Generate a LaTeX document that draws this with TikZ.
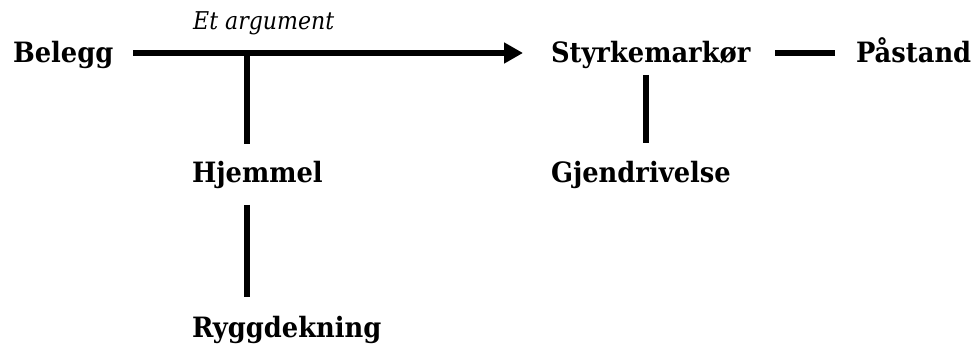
\documentclass[tikz,border=0pt]{standalone}
\usepackage{fontspec}
\setmainfont{DejaVu Serif}[BoldFeatures={FakeStretch=0.92},ItalicFeatures={FakeStretch=0.9}]
\usetikzlibrary{arrows.meta,calc}
\begin{document}
\begin{tikzpicture}[x=1pt,y=-1pt,
  lbl/.style={anchor=base west,inner sep=0pt,outer sep=0pt,text height=21pt,text depth=1pt,
    font=\fontsize{28}{34}\selectfont\bfseries},
  captext/.style={anchor=base west,inner sep=0pt,font=\fontsize{24.5}{28}\selectfont\itshape},
  conn/.style={line width=6.5pt},
  arr/.style={conn,-{Triangle[length=19pt,width=20pt]}}]
\useasboundingbox (0,0) rectangle (976,344);
\node[lbl] (belegg) at (13,63) {Belegg};
\node[captext] (etarg) at (193,30) {Et argument};
\node[lbl] (styrke) at (551,63) {Styrkemarkør};
\node[lbl] (pastand) at (856,63) {Påstand};
\node[lbl] (hjemmel) at (192,183) {Hjemmel};
\node[lbl] (gjendr) at (551,183) {Gjendrivelse};
\node[lbl] (rygg) at (192,337) {Ryggdekning};
\coordinate (j1) at (247,53);
\coordinate (j2) at (646,53);
\draw[arr,shorten <=20pt,shorten >=28pt] (belegg) -- (styrke);
\draw[conn,shorten >=18pt] ([yshift=-3.25pt]j1) -- (j1 |- hjemmel.north);
\draw[conn,shorten <=21pt,shorten >=19pt] (hjemmel.south -| j1) -- (rygg.north -| j1);
\draw[conn,shorten <=11pt,shorten >=19pt] (styrke.south -| j2) -- (gjendr.north -| j2);
\draw[conn,shorten <=25pt,shorten >=21pt] (styrke) -- (pastand);
\end{tikzpicture}
\end{document}
